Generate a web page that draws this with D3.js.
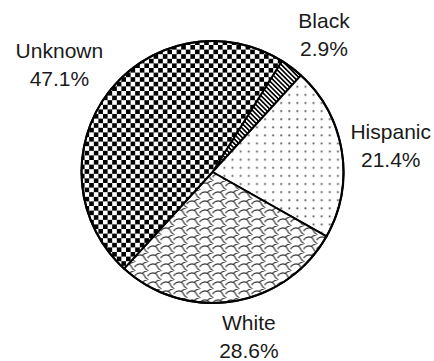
<!DOCTYPE html>
<html>
<head>
<meta charset="utf-8">
<script src="https://cdn.jsdelivr.net/npm/d3@7"></script>
<style>
  html, body { margin: 0; padding: 0; background: #fff; }
  svg { display: block; }
  text { font-family: "Liberation Sans", Arial, sans-serif; fill: #1a1a1a; }
</style>
</head>
<body>
<svg id="chart" width="434" height="361"></svg>
<script>
const categories = ["Black", "Hispanic", "White", "Unknown"];
const values = [2.9, 21.4, 28.6, 47.1];
const valueLabels = ["2.9%", "21.4%", "28.6%", "47.1%"];
const patternNames = ["stripes", "dots", "shingle", "checker"];

const W = 434, H = 361;
const cx = 212.5, cy = 172, R = 131;
const fontSize = 21;
const lineGap = 28;
// small manual label adjustments (layout, not data)
const labelNudge = [[5, 3], [-3, 3], [10, -1], [-1, 9]];

const svg = d3.select("#chart");
const defs = svg.append("defs");

// Checkerboard
const ck = 9.2;
const pCheck = defs.append("pattern").attr("id", "checker")
  .attr("patternUnits", "userSpaceOnUse").attr("width", ck).attr("height", ck)
  .attr("x", cx).attr("y", cy);
pCheck.append("rect").attr("width", ck).attr("height", ck).attr("fill", "#fff");
pCheck.append("rect").attr("width", ck / 2).attr("height", ck / 2).attr("fill", "#000");
pCheck.append("rect").attr("x", ck / 2).attr("y", ck / 2).attr("width", ck / 2).attr("height", ck / 2).attr("fill", "#000");

// Diagonal stripes
const st = 3.3;
const pStripe = defs.append("pattern").attr("id", "stripes")
  .attr("patternUnits", "userSpaceOnUse").attr("width", 10).attr("height", st)
  .attr("patternTransform", "rotate(45)");
pStripe.append("rect").attr("width", 10).attr("height", st).attr("fill", "#fff");
pStripe.append("rect").attr("width", 10).attr("height", st / 2).attr("fill", "#000");

// Dots
const dt = 8.1;
const pDots = defs.append("pattern").attr("id", "dots")
  .attr("patternUnits", "userSpaceOnUse").attr("width", dt).attr("height", dt);
pDots.append("rect").attr("width", dt).attr("height", dt).attr("fill", "#fff");
pDots.append("rect").attr("x", 3).attr("y", 3).attr("width", 1.8).attr("height", 1.8).attr("fill", "#555");

// Shingle
const sw = 13, sh = 9;
const pSh = defs.append("pattern").attr("id", "shingle")
  .attr("patternUnits", "userSpaceOnUse").attr("width", sw).attr("height", sh);
pSh.append("rect").attr("width", sw).attr("height", sh).attr("fill", "#fff");
pSh.append("path")
  .attr("d", "M-1,6 C2,2 5,1 8,2.5 C10,3.5 10,6 12,7.5 C13,8 14,8 14,8 M8,2.5 C9,1 11,0 14,-0.5 M-1,-3 C2,-7 5,-8 8,-6.5 M0,8 C0.5,9 1,10 1,10")
  .attr("fill", "none").attr("stroke", "#333").attr("stroke-width", 1.2);

const pie = d3.pie().sort(null).value(d => d)
  .startAngle(32 * Math.PI / 180).endAngle(32 * Math.PI / 180 + 2 * Math.PI);
const arcs = pie(values);
const arc = d3.arc().innerRadius(0).outerRadius(R);

const g = svg.append("g").attr("transform", `translate(${cx},${cy})`);
g.selectAll("path.slice").data(arcs).enter().append("path")
  .attr("class", "slice")
  .attr("d", arc)
  .attr("fill", (d, i) => `url(#${patternNames[i]})`)
  .attr("stroke", "#000").attr("stroke-width", 2).attr("stroke-linejoin", "round");

g.append("circle").attr("r", R).attr("fill", "none").attr("stroke", "#000").attr("stroke-width", 2);

// Labels: placed outside end along each slice's mid-angle
const gap = 10;
const labelG = svg.append("g");
arcs.forEach((d, i) => {
  const a = (d.startAngle + d.endAngle) / 2;
  const dx = Math.sin(a), dy = -Math.cos(a);
  const t = labelG.append("g");
  const t1 = t.append("text").attr("text-anchor", "middle").attr("font-size", fontSize).text(categories[i]);
  const t2 = t.append("text").attr("text-anchor", "middle").attr("font-size", fontSize).attr("y", lineGap).text(valueLabels[i]);
  const w = Math.max(t1.node().getComputedTextLength(), t2.node().getComputedTextLength());
  const hw = w / 2, hh = (lineGap + fontSize) / 2;
  let dist = R;
  for (let s = R * 0.5; s < R * 3; s += 0.5) {
    const bx = s * dx, by = s * dy;
    const nx = Math.max(Math.abs(bx) - hw, 0), ny = Math.max(Math.abs(by) - hh, 0);
    if (Math.hypot(nx, ny) >= R + gap) { dist = s; break; }
  }
  const bx = cx + dist * dx + labelNudge[i][0];
  const by = cy + dist * dy + labelNudge[i][1];
  t.attr("transform", `translate(${bx},${by - hh + fontSize * 0.82})`);
});
</script>
</body>
</html>
